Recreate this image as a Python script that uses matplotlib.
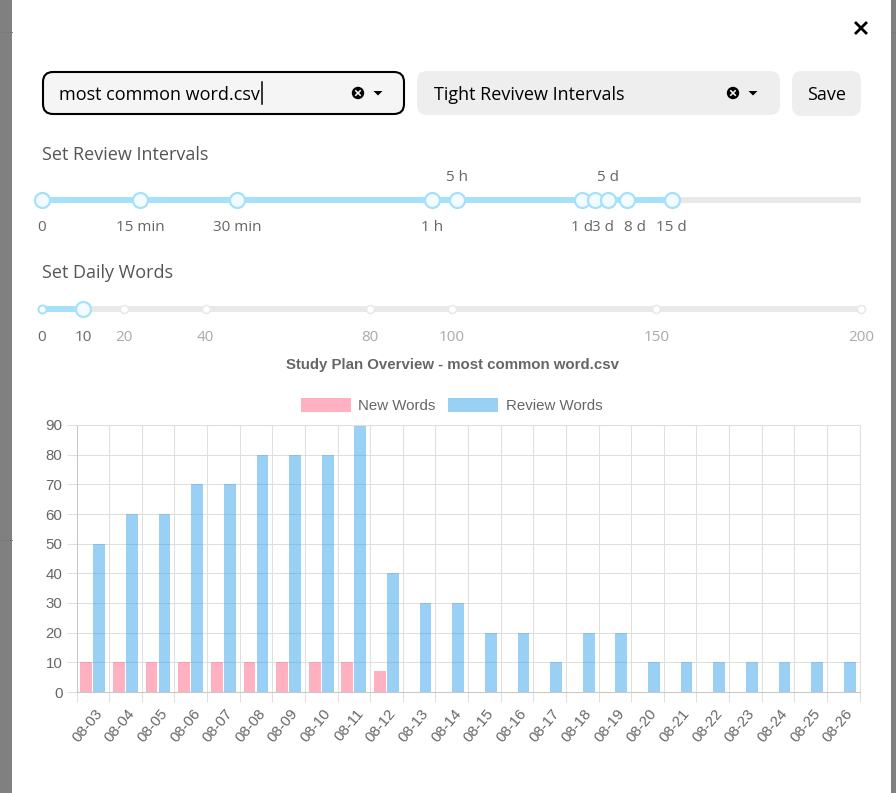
import matplotlib
matplotlib.use("Agg")
import matplotlib.pyplot as plt
from matplotlib.patches import FancyBboxPatch, Circle, Polygon
from matplotlib.transforms import ScaledTranslation

# ---- chart data
dates = ["08-03","08-04","08-05","08-06","08-07","08-08","08-09","08-10","08-11","08-12","08-13","08-14",
         "08-15","08-16","08-17","08-18","08-19","08-20","08-21","08-22","08-23","08-24","08-25","08-26"]
new_words = [10,10,10,10,10,10,10,10,10,7,0,0,0,0,0,0,0,0,0,0,0,0,0,0]
review_words = [50,60,60,70,70,80,80,80,90,40,30,30,20,20,10,20,20,10,10,10,10,10,10,10]
y_ticks = [0,10,20,30,40,50,60,70,80,90]

# ---- slider data (percent of track for intervals, word count for daily words)
interval_handles = [0,12,23.8,47.6,50.7,65.9,67.5,69.1,71.4,76.9]
interval_below_labels = ["0","15 min","30 min","1 h","1 d","3 d","8 d","15 d"]
interval_below_pos = [0,12,23.8,47.6,65.9,68.5,72.4,76.9]
interval_above_labels = ["5 h","5 d"]
interval_above_pos = [50.7,69.1]
daily_marks = [0,10,20,40,80,100,150,200]
daily_value = 10

# ---- text
file_name = "most common word.csv"
plan_name = "Tight Revivew Intervals"
save_label = "Save"
title_review = "Set Review Intervals"
title_daily = "Set Daily Words"
chart_title = "Study Plan Overview - most common word.csv"

W, H = 896, 793
UI_FONT = "Open Sans"
CHART_FONT = "Liberation Sans"
CHART_SIZE = 10.8
px = 72 / 100  # points per pixel

fig = plt.figure(figsize=(W/100, H/100), dpi=100, facecolor="#808080")

# ---- modal chrome in pixel coordinates
ui = fig.add_axes([0,0,1,1], zorder=0)
ui.set_xlim(0,W); ui.set_ylim(H,0); ui.axis("off")
ui.plot([0,12],[32,32],color="#7a7a7a",lw=0.7)
ui.plot([891,896],[32,32],color="#7a7a7a",lw=0.7)
ui.plot([0,12],[540,540],color="#7a7a7a",lw=0.7)
ui.add_patch(FancyBboxPatch((12,-25),879,900,boxstyle="round,pad=0,rounding_size=24",fc="white",ec="none"))

def box(x0,y0,x1,y1,fc,ec="none",lw=0,r=10):
    ui.add_patch(FancyBboxPatch((x0,y0),x1-x0,y1-y0,boxstyle=f"round,pad=0,rounding_size={r}",fc=fc,ec=ec,lw=lw))

def icons(cx,cy,caret):
    ui.add_patch(Circle((cx,cy),6.2,fc="black",ec="none"))
    ui.plot([cx-2.2,cx+2.2],[cy-2.2,cy+2.2],color="white",lw=1.1)
    ui.plot([cx-2.2,cx+2.2],[cy+2.2,cy-2.2],color="white",lw=1.1)
    ui.add_patch(Polygon([(caret-4.5,cy-2),(caret+4.5,cy-2),(caret,cy+2.5)],fc="black",ec="none"))

box(43,72,404,114,"#f5f5f5","black",1.5)
box(417,71,780,115,"#eeeeee")
box(792,71,861,116,"#eeeeee")
ui.text(59,95,file_name,fontsize=13,family=UI_FONT,color="black",va="center")
ui.plot([262,262],[82,104],color="black",lw=1.1)
ui.text(434,95,plan_name,fontsize=13,family=UI_FONT,color="black",va="center")
ui.text(827,95,save_label,fontsize=13,family=UI_FONT,color="black",va="center",ha="center")
icons(358,93,378); icons(733,93,753)
ui.plot([856,866],[23,33],color="black",lw=2.0)
ui.plot([856,866],[33,23],color="black",lw=2.0)
ui.text(42,155,title_review,fontsize=13,family=UI_FONT,color="#555555",va="center")
ui.text(42,273,title_daily,fontsize=13,family=UI_FONT,color="#555555",va="center")

# ---- sliders
ACTIVE = "#a6e0fb"
RAIL = "#e9e9e9"
LABEL = dict(ha="center",va="center",fontsize=11,family=UI_FONT,textcoords="offset points")

def slider_axes(yc, xmax):
    ax = fig.add_axes([42/W, 1-(yc+10)/H, (861-42)/W, 20/H], zorder=1)
    ax.set_xlim(0,xmax); ax.set_ylim(-1,1); ax.axis("off")
    return ax

iv = slider_axes(199.5,100)
iv.plot([0,100],[0,0],color=RAIL,lw=6*px,solid_capstyle="butt",clip_on=False)
iv.plot([0,max(interval_handles)],[0,0],color=ACTIVE,lw=6*px,solid_capstyle="butt",clip_on=False)
iv.plot(interval_handles,[0]*len(interval_handles),"o",ms=15*px,mfc="#f2fbff",mec=ACTIVE,mew=2.2*px,clip_on=False,ls="none")
for s,p in zip(interval_below_labels,interval_below_pos):
    iv.annotate(s,(p,0),xytext=(0,-28*px),color="#666666",**LABEL)
for s,p in zip(interval_above_labels,interval_above_pos):
    iv.annotate(s,(p,0),xytext=(0,22*px),color="#666666",**LABEL)

dw = slider_axes(309.5,200)
dw.plot([0,200],[0,0],color=RAIL,lw=6*px,solid_capstyle="butt",clip_on=False)
dw.plot([0,daily_value],[0,0],color=ACTIVE,lw=6*px,solid_capstyle="butt",clip_on=False)
off = [m for m in daily_marks if m > daily_value]
dw.plot(off,[0]*len(off),"o",ms=8*px,mfc="white",mec=RAIL,mew=1.6*px,ls="none",clip_on=False)
dw.plot([0],[0],"o",ms=8*px,mfc="white",mec=ACTIVE,mew=2*px,ls="none",clip_on=False)
dw.plot([daily_value],[0],"o",ms=15*px,mfc="#f2fbff",mec=ACTIVE,mew=2.2*px,ls="none",clip_on=False)
for m in daily_marks:
    dw.annotate(str(m),(m,0),xytext=(0,-28*px),color="#666666" if m <= daily_value else "#aaaaaa",**LABEL)

# ---- chart
L,R,T,B = 76.5,859.5,425,692
ax = fig.add_axes([L/W,1-B/H,(R-L)/W,(B-T)/H], zorder=2)
ax.patch.set_alpha(0)
xs = list(range(len(dates)))
GRID = "#dfdfdf"
ax.set_xlim(-0.5,len(dates)-0.5); ax.set_ylim(0,90)
ax.set_axisbelow(True)
ax.bar([x-0.2 for x in xs],new_words,width=0.36,color="#FF6384",alpha=0.5,lw=0,label="New Words")
ax.bar([x+0.2 for x in xs],review_words,width=0.36,color="#36A2EB",alpha=0.5,lw=0,label="Review Words")
ax.set_xticks(xs); ax.set_xticklabels(dates)
ax.set_xticks([x-0.5 for x in xs]+[len(dates)-0.5],minor=True)
ax.set_yticks(y_ticks)
ax.grid(True,axis="x",which="minor",color=GRID,lw=0.75)
ax.grid(True,axis="y",which="major",color=GRID,lw=0.75)
ax.tick_params(axis="x",which="minor",length=10*px,width=0.75,color=GRID)
ax.tick_params(axis="x",which="major",length=0,pad=19*px,labelsize=CHART_SIZE,labelcolor="#666666")
ax.tick_params(axis="y",length=10*px,width=0.75,color=GRID,pad=4*px,labelsize=CHART_SIZE,labelcolor="#666666")
shift = ScaledTranslation(7/100,0,fig.dpi_scale_trans)
for lab in ax.get_xticklabels():
    lab.set_rotation(50); lab.set_rotation_mode("anchor"); lab.set_ha("right"); lab.set_va("center")
    lab.set_family(CHART_FONT); lab.set_transform(lab.get_transform()+shift)
for lab in ax.get_yticklabels():
    lab.set_family(CHART_FONT)
for s in ("top","right"):
    ax.spines[s].set_color(GRID); ax.spines[s].set_linewidth(0.75)
for s in ("left","bottom"):
    ax.spines[s].set_color("#c8c8c8"); ax.spines[s].set_linewidth(0.75)
ax.set_title(chart_title,x=(452-L)/(R-L),pad=55.5*px,fontsize=CHART_SIZE,fontweight="bold",family=CHART_FONT,color="#666666")
ax.legend(loc="center",bbox_to_anchor=(451.5/W,1-405.7/H),bbox_transform=fig.transFigure,ncols=2,frameon=False,
          handlelength=3.33,handleheight=1.0,handletextpad=0.5,columnspacing=0.85,
          prop={"family":CHART_FONT,"size":CHART_SIZE},labelcolor="#666666",borderpad=0,borderaxespad=0)

fig.savefig("out.png",dpi=100,facecolor=fig.get_facecolor())
